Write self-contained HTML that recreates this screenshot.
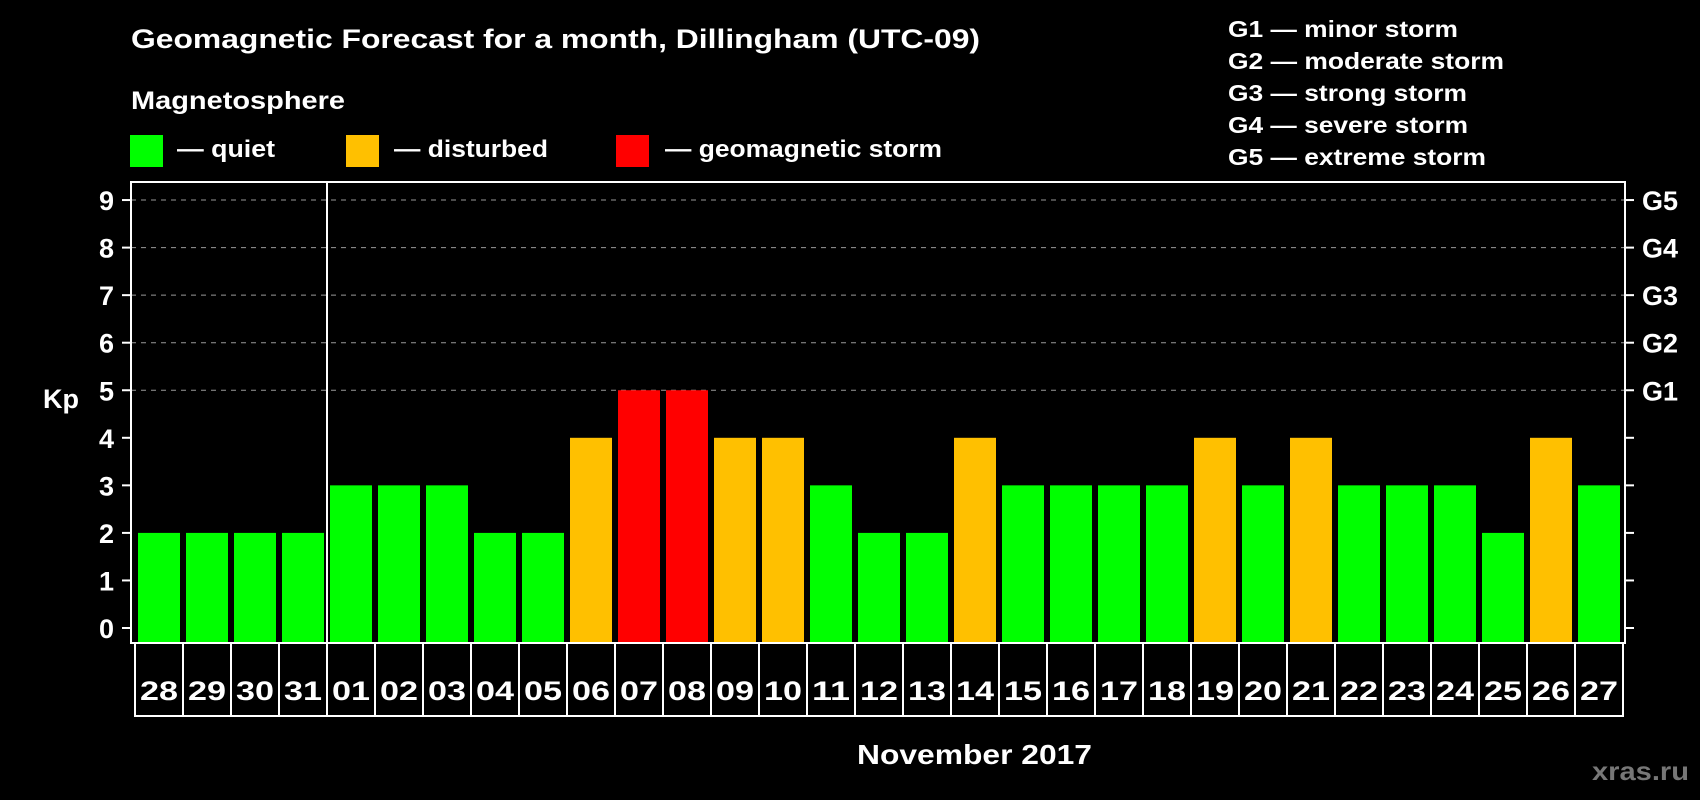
<!DOCTYPE html>
<html><head><meta charset="utf-8"><style>
html,body{margin:0;padding:0;background:#000;}
svg{display:block;font-family:"Liberation Sans",Arial,sans-serif;font-weight:bold;}
</style></head><body>
<svg id="chart" width="1700" height="800" viewBox="0 0 1700 800">
<rect x="0" y="0" width="1700" height="800" fill="#000"/>
<text x="131" y="48" fill="#fff" font-size="27" textLength="849" lengthAdjust="spacingAndGlyphs">Geomagnetic Forecast for a month, Dillingham (UTC-09)</text>
<text x="131" y="109" fill="#fff" font-size="25" textLength="214" lengthAdjust="spacingAndGlyphs">Magnetosphere</text>
<g><rect x="130" y="135" width="33" height="32" fill="#00ff00"/><text x="177" y="157" fill="#fff" font-size="24" textLength="98" lengthAdjust="spacingAndGlyphs">— quiet</text></g>
<g><rect x="346" y="135" width="33" height="32" fill="#ffc000"/><text x="394" y="157" fill="#fff" font-size="24" textLength="154" lengthAdjust="spacingAndGlyphs">— disturbed</text></g>
<g><rect x="616" y="135" width="33" height="32" fill="#ff0000"/><text x="665" y="157" fill="#fff" font-size="24" textLength="277" lengthAdjust="spacingAndGlyphs">— geomagnetic storm</text></g>
<g fill="#fff" font-size="23">
<text x="1228" y="37" textLength="230" lengthAdjust="spacingAndGlyphs">G1 — minor storm</text>
<text x="1228" y="69" textLength="276" lengthAdjust="spacingAndGlyphs">G2 — moderate storm</text>
<text x="1228" y="101" textLength="239" lengthAdjust="spacingAndGlyphs">G3 — strong storm</text>
<text x="1228" y="133" textLength="240" lengthAdjust="spacingAndGlyphs">G4 — severe storm</text>
<text x="1228" y="165" textLength="258" lengthAdjust="spacingAndGlyphs">G5 — extreme storm</text>
</g>
<text x="43" y="408" fill="#fff" font-size="27">Kp</text>
<text x="857" y="764" fill="#fff" font-size="28" textLength="235" lengthAdjust="spacingAndGlyphs">November 2017</text>
<text x="1592" y="780" fill="#777" font-size="26" textLength="97" lengthAdjust="spacingAndGlyphs">xras.ru</text>
<g id="grid"></g>
<g id="bars"></g>
<g id="axes"></g>
</svg>
<script>
const days = ["28","29","30","31","01","02","03","04","05","06","07","08","09","10","11","12","13","14","15","16","17","18","19","20","21","22","23","24","25","26","27"];
const kp = [2,2,2,2,3,3,3,2,2,4,5,5,4,4,3,2,2,4,3,3,3,3,4,3,4,3,3,3,2,4,3];
const yTicks = [0,1,2,3,4,5,6,7,8,9];
const gLabels = ["G1","G2","G3","G4","G5"];
const gLevels = [5,6,7,8,9];

const NS = "http://www.w3.org/2000/svg";
const plotL = 131, plotR = 1625, plotT = 182, plotB = 643;
const y0 = 628, unit = 47.55;
function yScale(v){ return y0 - v*unit; }
function xBar(i){ return 138 + i*48; }
function mk(tag, attrs, parent){ const e=document.createElementNS(NS,tag); for(const k in attrs) e.setAttribute(k,attrs[k]); parent.appendChild(e); return e; }
function color(v){ return v>=5 ? "#ff0000" : (v>=4 ? "#ffc000" : "#00ff00"); }

const grid = document.getElementById("grid");
const bars = document.getElementById("bars");
const axes = document.getElementById("axes");

yTicks.forEach(t => {
  const y = yScale(t);
  if (t >= 5) {
    const gl = mk("line",{x1:plotL,x2:plotR,y1:y,y2:y,stroke:"#999","stroke-width":1,"stroke-dasharray":"5,5"},grid);
    
    
  }
  mk("line",{x1:plotL-9,x2:plotL,y1:y,y2:y,stroke:"#fff","stroke-width":2},axes);
  mk("line",{x1:plotR,x2:plotR+9,y1:y,y2:y,stroke:"#fff","stroke-width":2},axes);
  const tl = mk("text",{x:plotL-17,y:y+10,fill:"#fff","font-size":27,"text-anchor":"end"},axes);
  tl.textContent = t;
  
  
});
gLabels.forEach((g,i) => {
  const gt = mk("text",{x:plotR+17,y:yScale(gLevels[i])+10,fill:"#fff","font-size":27},axes);
  gt.textContent = g;
  
  
});

kp.forEach((v,i) => {
  const top = yScale(v);
  const r = mk("rect",{x:xBar(i),y:top,width:42,height:plotB-top,fill:color(v)},bars);
  
  
});

const frame = mk("rect",{x:plotL,y:plotT,width:plotR-plotL,height:plotB-plotT,fill:"none",stroke:"#fff","stroke-width":2},axes);


const div = mk("line",{x1:327,x2:327,y1:plotT,y2:plotB,stroke:"#fff","stroke-width":2},axes);



days.forEach((d,i) => {
  const cx = 135 + i*48;
  const c = mk("rect",{x:cx,y:643,width:48,height:73,fill:"none",stroke:"#fff","stroke-width":2},axes);
  
  
  const t = mk("text",{x:cx+24,y:700,fill:"#fff","font-size":27,"text-anchor":"middle",textLength:38,lengthAdjust:"spacingAndGlyphs"},axes);
  t.textContent = d;
  
  
});
</script>
</body></html>
